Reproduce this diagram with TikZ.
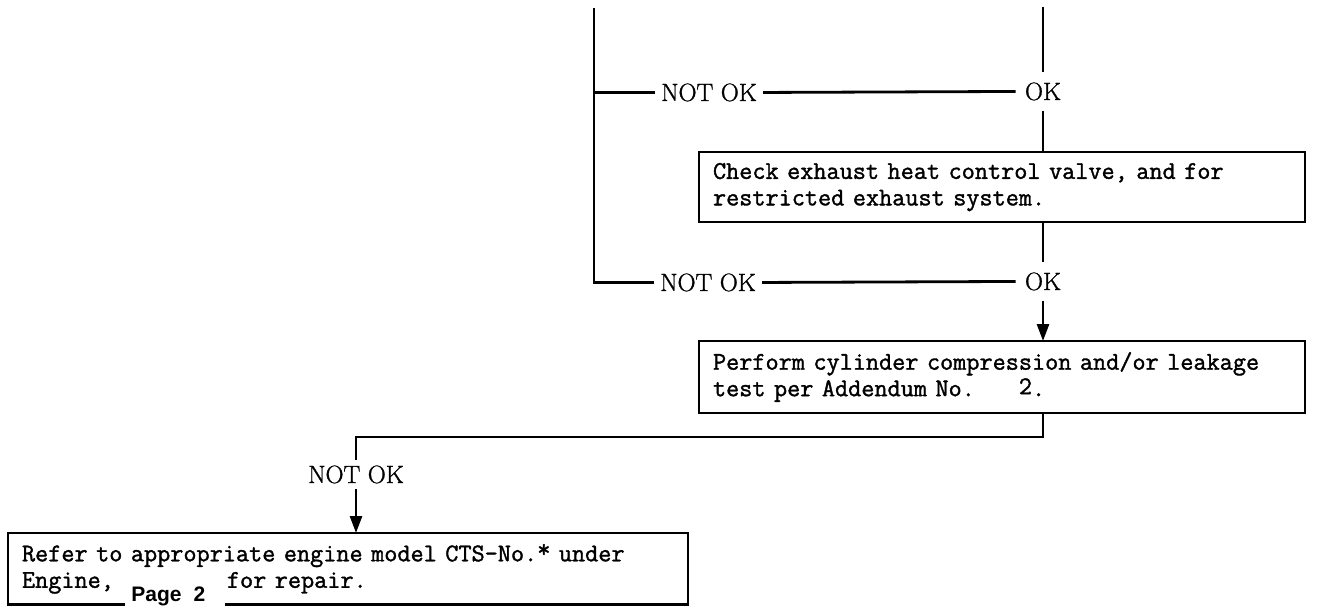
\documentclass[tikz,border=0pt]{standalone}
\usepackage{fontspec}
\usepackage{graphicx}
\usetikzlibrary{arrows.meta}
% typewriter face for the instruction boxes, serif face for the decisions,
% sans face for the page reference
\newfontfamily\boxfont{Latin Modern Mono}[FakeBold=1.4]
\newfontfamily\labelfont{Latin Modern Roman}[FakeBold=1.2]
\newfontfamily\pagefont{Liberation Sans}
\begin{document}
\begin{tikzpicture}[x=1pt, y=-1pt, line width=2.8pt,
  answer/.style={font=\labelfont\fontsize{25}{25}\selectfont, inner xsep=5pt, inner ysep=4.5pt},
  okmark/.style={font=\labelfont\fontsize{25}{25}\selectfont, inner xsep=8pt, inner ysep=9pt},
  task/.style={draw, line width=2.4pt, anchor=north west, outer sep=0pt,
    font=\boxfont\fontsize{25.5}{26.5}\selectfont, align=left,
    text width=578pt, inner xsep=14pt, inner ysep=11pt},
  arr/.style={-{Triangle[length=17pt,width=12pt]}}]
\useasboundingbox (0,0) rectangle (1340,607);

% decision labels
\node[answer, anchor=base] (nok1) at (709,101) {NOT OK};
\node[okmark, anchor=base] (ok1) at (1043,100) {OK};
\node[answer, anchor=base] (nok2) at (708,291) {NOT OK};
\node[okmark, anchor=base] (ok2) at (1043,290) {OK};
\node[answer, anchor=base] (nok3) at (356,483) {NOT OK};

% instruction boxes
\node[task] (check) at (699,152)
  {Check exhaust heat control valve, and for\\restricted exhaust system.};
\node[task] (perform) at (699,341)
  {Perform cylinder compression and/or leakage\\test per Addendum No.\hspace{44pt}\raisebox{2pt}{2}.};
\node[task, text width=652pt] (refer) at (8,533)
  {Refer to appropriate engine model CTS-No.\raisebox{4pt}{*} under\\Engine,\hspace{113pt}for repair.};
\node[fill=white, anchor=base west, inner xsep=6pt, inner ysep=4pt,
  text width=88pt, align=left, font=\pagefont\bfseries\fontsize{21}{21}\selectfont]
  (page) at (124,601) {Page\hspace{12pt}2};

% left return line
\coordinate (ltop) at (594,8);
\draw (ltop) |- (nok2.west);
\draw (nok1.west) -- (nok1.west -| ltop);
\draw (nok1.east) -- (ok1.west);
\draw (nok2.east) -- (ok2.west);

% main OK path
\coordinate (rtop) at (1043,7);
\draw (rtop) -- (ok1.north);
\draw (ok1.south) -- (ok1 |- check.north);
\draw (ok1 |- check.south) -- (ok2.north);
\draw[arr] (ok2.south) -- (ok2 |- perform.north);

% NOT OK branch after the compression test
\coordinate (jn) at (1043,437);
\draw (ok2 |- perform.south) -- (jn) -| (nok3.north);
\draw[arr] (nok3.south) -- (nok3 |- refer.north);
\end{tikzpicture}
\end{document}
